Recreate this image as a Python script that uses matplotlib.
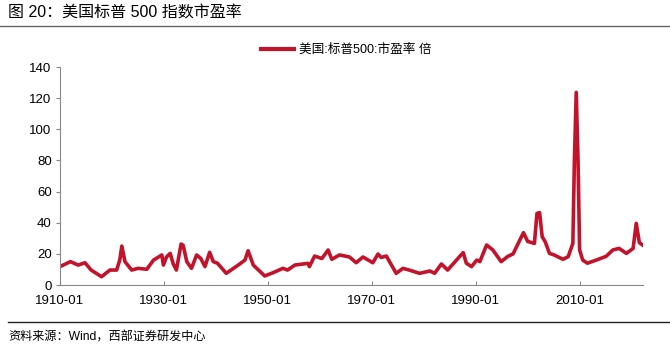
import matplotlib.pyplot as plt
import matplotlib.lines as mlines

plt.rcParams['font.family'] = ['Liberation Sans', 'Noto Sans CJK SC', 'DejaVu Sans']

# 标普500 市盈率, x in decimal years
years = [1910.0, 1912.0, 1913.5, 1914.8, 1916.0, 1918.0, 1919.6, 1920.9, 1921.5, 1921.9,
         1922.5, 1923.8, 1925.0, 1926.7, 1928.0, 1929.6, 1929.9, 1930.5, 1931.2, 1931.8,
         1932.4, 1933.3, 1933.7, 1934.4, 1935.3, 1936.3, 1937.1, 1937.9, 1938.8, 1939.5,
         1940.3, 1942.0, 1944.3, 1945.6, 1946.2, 1947.2, 1949.4, 1951.0, 1952.9, 1953.8,
         1955.2, 1957.7, 1958.0, 1959.0, 1960.4, 1961.6, 1962.3, 1963.8, 1965.7, 1967.0,
         1968.3, 1970.2, 1971.2, 1971.8, 1972.8, 1974.7, 1976.0, 1977.2, 1979.2, 1981.2,
         1982.1, 1983.4, 1984.6, 1986.3, 1987.6, 1988.2, 1989.2, 1990.2, 1990.8, 1992.1,
         1993.3, 1994.9, 1996.2, 1997.2, 1998.5, 1999.2, 2000.0, 2001.3, 2001.8, 2002.3,
         2002.8, 2003.4, 2004.2, 2005.1, 2006.8, 2007.8, 2008.7, 2009.0, 2009.35, 2009.7,
         2010.0, 2010.6, 2011.5, 2013.2, 2015.1, 2016.4, 2017.6, 2019.0, 2020.3, 2020.9,
         2021.5, 2022.1]
pe = [11.8, 15.0, 12.8, 14.3, 9.6, 5.3, 9.6, 9.6, 16.0, 25.0,
      15.0, 9.6, 10.7, 10.1, 16.0, 19.3, 12.8, 18.0, 20.3, 13.5,
      9.6, 26.3, 25.5, 15.0, 10.7, 19.3, 17.0, 11.8, 21.0, 15.0,
      14.0, 7.5, 12.8, 16.0, 22.0, 12.8, 5.8, 7.9, 10.7, 9.6,
      12.8, 13.9, 11.8, 18.6, 17.0, 22.5, 16.5, 19.3, 18.0, 14.3,
      18.0, 14.3, 19.9, 17.7, 18.6, 7.5, 10.7, 9.6, 7.5, 9.0,
      7.5, 13.5, 9.6, 16.0, 20.8, 14.0, 11.8, 16.0, 15.0, 25.7,
      22.5, 15.0, 18.4, 20.0, 28.9, 33.6, 28.0, 26.7, 46.0, 46.5,
      31.0, 27.6, 20.3, 19.3, 16.5, 18.2, 26.7, 80.0, 123.7, 80.0,
      22.5, 16.0, 14.0, 16.0, 18.4, 22.5, 23.5, 20.3, 23.5, 39.6,
      27.2, 25.7]

xtick_pos = [1910, 1930, 1950, 1970, 1990, 2010]
xtick_labels = ['1910-01', '1930-01', '1950-01', '1970-01', '1990-01', '2010-01']
yticks = [0, 20, 40, 60, 80, 100, 120, 140]

red = '#C3132B'
grey = '#888888'

fig = plt.figure(figsize=(6.7, 3.56), dpi=100)
ax = fig.add_axes([60 / 670, 1 - 285 / 356, 583 / 670, 218 / 356])

ax.plot(years, pe, color=red, lw=2.6, solid_joinstyle='round')

ax.set_xlim(1910, 2022.2)
ax.set_ylim(0, 140)
ax.set_xticks(xtick_pos)
ax.set_xticklabels(xtick_labels)
ax.set_yticks(yticks)
for s in ['top', 'right']:
    ax.spines[s].set_visible(False)
for s in ['left', 'bottom']:
    ax.spines[s].set_color(grey)
    ax.spines[s].set_linewidth(0.8)
ax.tick_params(axis='x', direction='in', length=3, color=grey, labelsize=9.5, pad=7)
ax.tick_params(axis='y', direction='out', length=3, color=grey, labelsize=9.5, pad=3)

handle = mlines.Line2D([], [], color=red, lw=3)
fig.legend([handle], ['美国:标普500:市盈率 倍'], loc='center', bbox_to_anchor=(346 / 670, 1 - 50 / 356),
           frameon=False, fontsize=9.1, handlelength=2.6, handletextpad=0.4)

fig.text(8 / 670, 1 - 13 / 356, '图 20：美国标普 500 指数市盈率', fontsize=11.5, va='center', ha='left')
fig.add_artist(mlines.Line2D([0, 1], [1 - 26 / 356, 1 - 26 / 356], color='#666666', lw=1))
fig.add_artist(mlines.Line2D([8 / 670, 1], [1 - 322 / 356, 1 - 322 / 356], color='#222222', lw=1))
fig.text(8 / 670, 1 - 338 / 356, '资料来源：Wind，西部证券研发中心', fontsize=8.7, va='center', ha='left')

fig.savefig('out.png', dpi=100)
